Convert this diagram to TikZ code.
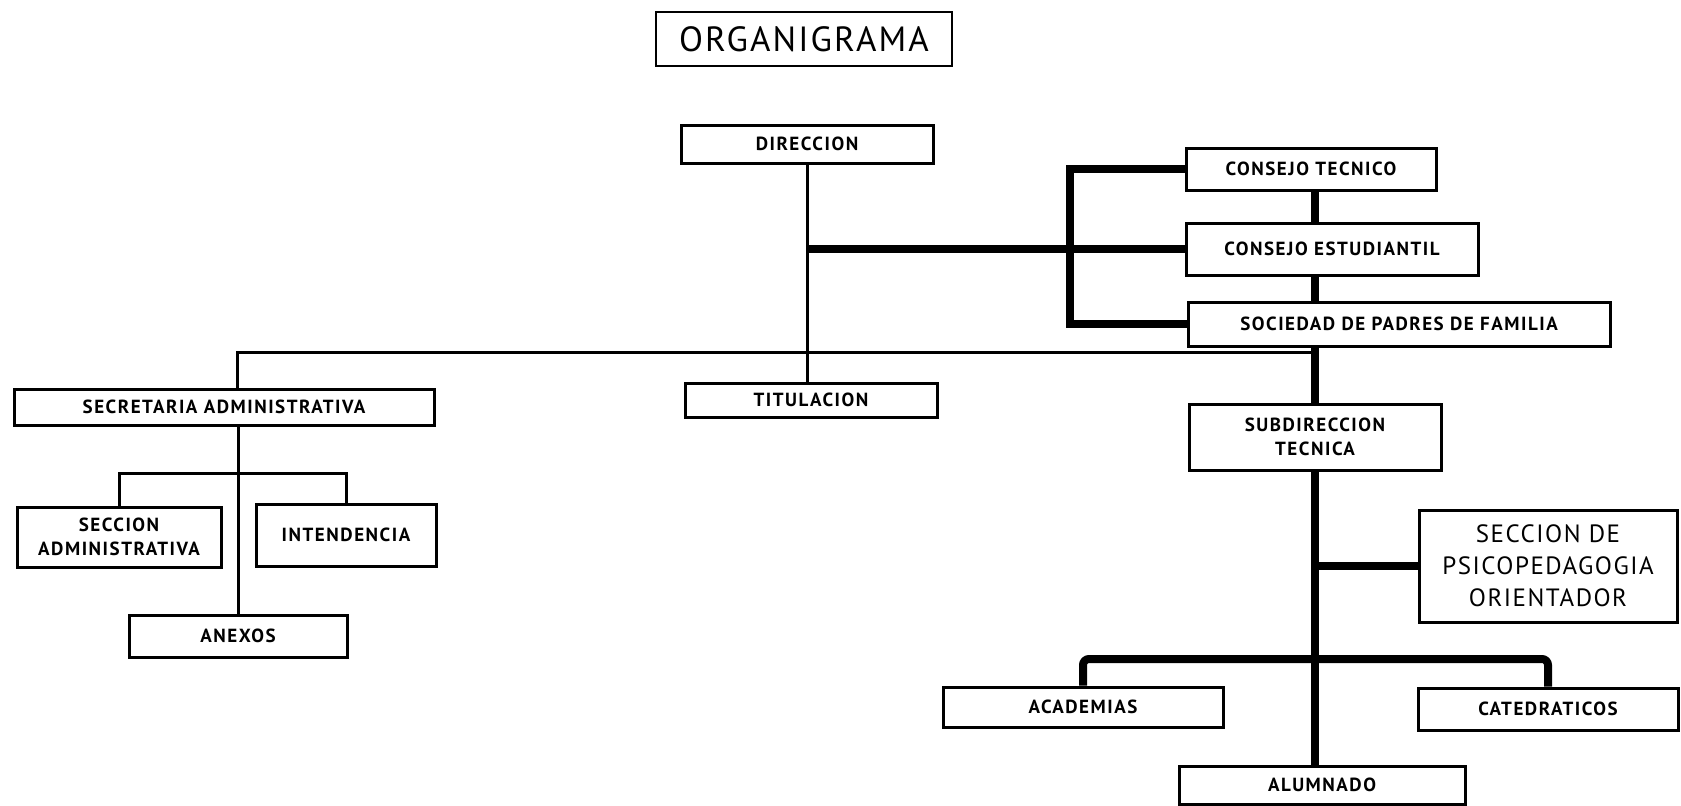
\documentclass[tikz,border=0pt]{standalone}
\usepackage{fontspec}
\setsansfont{PT Sans}
\newfontfamily\boxfont[LetterSpace=8.0]{PT Sans}
\newfontfamily\headfont[LetterSpace=6.0]{PT Sans}
\usetikzlibrary{positioning, calc}

\tikzset{
  unit/.style={draw, line width=1.5pt, inner sep=0pt, align=center,
    font=\boxfont\bfseries\fontsize{9.5}{12}\selectfont},
  weak/.style={line width=1.5pt},
  strong/.style={line width=4pt},
}

\begin{document}
\begin{tikzpicture}[x=0.5pt, y=-0.5pt]
  \useasboundingbox (0,0) rectangle (1681,805);

  \node[draw, line width=1.2pt, minimum width=148pt, minimum height=27pt, inner sep=0pt,
        font=\headfont\fontsize{17.5}{20}\selectfont] (title) at (804,39) {ORGANIGRAMA};

  % direccion y consejos
  \node[unit, minimum width=126pt, minimum height=19pt] (dir) at (807,144) {DIRECCION};
  \node[unit, minimum width=125pt, minimum height=21pt] (tec) at (1311,169) {CONSEJO TECNICO};
  \node[unit, minimum width=146pt, minimum height=26pt] (est) at (1332,249) {CONSEJO ESTUDIANTIL};
  \node[unit, minimum width=211pt, minimum height=22pt] (soc) at (1399,324) {SOCIEDAD DE PADRES DE FAMILIA};
  \node[unit, minimum width=126pt, minimum height=17pt] (tit) at (811,400) {TITULACION};

  % rama administrativa
  \node[unit, minimum width=210pt, minimum height=18pt] (sec) at (224,407) {SECRETARIA ADMINISTRATIVA};
  \node[unit, minimum width=102pt, minimum height=30pt] (adm) at (119,537) {SECCION\\ADMINISTRATIVA};
  \node[unit, minimum width=90pt, minimum height=31pt] (int) at (346,535) {INTENDENCIA};
  \node[unit, minimum width=109pt, minimum height=21pt] (anx) at (238,636) {ANEXOS};

  % rama tecnica
  \node[unit, minimum width=126pt, minimum height=33pt] (sub) at (1315,437) {SUBDIRECCION\\TECNICA};
  \node[unit, minimum width=129pt, minimum height=56pt,
        font=\headfont\fontsize{12.5}{16}\selectfont] (psi) at (1548,566) {SECCION DE\\PSICOPEDAGOGIA\\ORIENTADOR};
  \node[unit, minimum width=140pt, minimum height=20pt] (aca) at (1083,707) {ACADEMIAS};
  \node[unit, minimum width=130pt, minimum height=21pt] (cat) at (1548,709) {CATEDRATICOS};
  \node[unit, minimum width=143pt, minimum height=19pt] (alu) at (1322,785) {ALUMNADO};

  \coordinate (join) at (1315,352);
  \coordinate (secjoin) at (237,352);

  \draw[weak] (dir.south) -- (dir.south |- tit.north);
  \draw[strong] (dir.south |- est.west) -- (est.west);
  \draw[strong] (tec.west) -- ++(-115,0) |- (soc.west);
  \draw[strong] (join |- tec.south) -- (join |- est.north);
  \draw[strong] (join |- est.south) -- (join |- soc.north);
  \draw[strong] (join |- soc.south) -- (join |- sub.north);
  \draw[weak] (join) -- (secjoin) -- (secjoin |- sec.north);

  \draw[weak] (anx.north |- sec.south) -- (anx.north);
  \draw[weak] (adm.north) -- ++(0,-32) -| (int.north);

  \draw[strong] (sub.south) -- (sub.south |- alu.north);
  \draw[strong] (sub.south |- psi.west) -- (psi.west);
  \draw[strong, rounded corners=3pt] (aca.north) -- (aca.north |- 0,659) -- (cat.north |- 0,659) -- (cat.north);
\end{tikzpicture}
\end{document}
